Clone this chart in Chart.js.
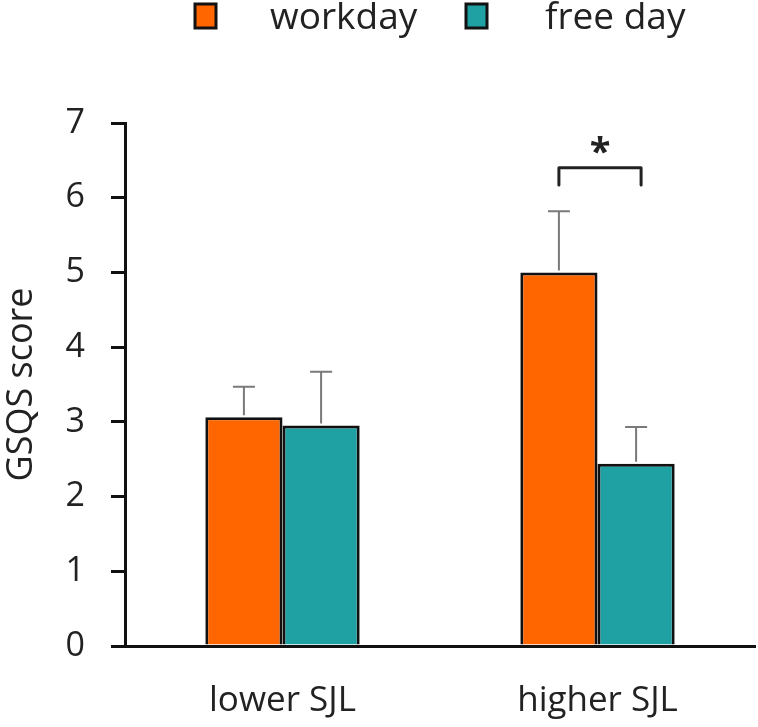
<!DOCTYPE html>
<html>
<head>
<meta charset="utf-8">
<script src="https://cdn.jsdelivr.net/npm/chart.js@4"></script>
<style>
  body { margin: 0; background: #fff; }
</style>
</head>
<body>
<canvas id="myChart" width="758" height="727"></canvas>
<script>
var categories = ['lower SJL', 'higher SJL'];
var workday = [3.06, 5.0];
var freeDay = [2.95, 2.44];
var workdayErr = [0.41, 0.82];
var freeDayErr = [0.72, 0.49];
var yTicks = [0, 1, 2, 3, 4, 5, 6, 7];

var FONT = "'Open Sans', sans-serif";

// error bars, only the upper half
var errorBars = {
  id: 'errorBars',
  afterDatasetsDraw: function(chart) {
    var ctx = chart.ctx;
    var y = chart.scales.y;
    var errs = [workdayErr, freeDayErr];
    ctx.save();
    ctx.strokeStyle = '#7a7a7a';
    ctx.lineWidth = 2;
    chart.data.datasets.forEach(function(ds, i) {
      chart.getDatasetMeta(i).data.forEach(function(bar, j) {
        var top = y.getPixelForValue(ds.data[j] + errs[i][j]);
        ctx.beginPath();
        ctx.moveTo(bar.x, bar.y - 2);
        ctx.lineTo(bar.x, top);
        ctx.moveTo(bar.x - 11, top);
        ctx.lineTo(bar.x + 11, top);
        ctx.stroke();
      });
    });
    ctx.restore();
  }
};

// significance bracket over higher SJL
var bracket = {
  id: 'bracket',
  afterDatasetsDraw: function(chart) {
    var ctx = chart.ctx;
    var y = chart.scales.y;
    var a = chart.getDatasetMeta(0).data[1];
    var b = chart.getDatasetMeta(1).data[1];
    var x1 = a.x, x2 = b.x + 5;
    var yTop = y.getPixelForValue(6.4), yEnd = y.getPixelForValue(6.17);
    ctx.save();
    ctx.strokeStyle = '#222';
    ctx.lineWidth = 3;
    ctx.lineJoin = 'round';
    ctx.lineCap = 'round';
    ctx.beginPath();
    ctx.moveTo(x1, yEnd);
    ctx.lineTo(x1, yTop);
    ctx.lineTo(x2, yTop);
    ctx.lineTo(x2, yEnd);
    ctx.stroke();
    ctx.fillStyle = '#222';
    ctx.font = 'bold 38px ' + FONT;
    ctx.textAlign = 'center';
    ctx.textBaseline = 'middle';
    ctx.fillText('*', (x1 + x2) / 2, y.getPixelForValue(6.58));
    ctx.restore();
  }
};

// legend drawn at the top
var topLegend = {
  id: 'topLegend',
  afterDraw: function(chart) {
    var ctx = chart.ctx;
    var items = [
      { box: 195, text: 270, ds: chart.data.datasets[0] },
      { box: 466, text: 545, ds: chart.data.datasets[1] }
    ];
    ctx.save();
    items.forEach(function(it) {
      ctx.fillStyle = it.ds.backgroundColor;
      ctx.fillRect(it.box, 4, 21, 24);
      ctx.strokeStyle = '#111';
      ctx.lineWidth = 3;
      ctx.strokeRect(it.box, 4, 21, 24);
      ctx.fillStyle = '#222';
      ctx.font = '37px ' + FONT;
      ctx.textBaseline = 'middle';
      ctx.fillText(it.ds.label, it.text, 18);
    });
    ctx.restore();
  }
};

var ctx = document.getElementById('myChart').getContext('2d');
var myChart = new Chart(ctx, {
  type: 'bar',
  data: {
    labels: categories,
    datasets: [{
      label: 'workday',
      data: workday,
      backgroundColor: '#ff6600',
      borderColor: '#111',
      borderWidth: 3,
      borderSkipped: 'bottom'
    },
    {
      label: 'free day',
      data: freeDay,
      backgroundColor: '#1fa1a3',
      borderColor: '#111',
      borderWidth: 3,
      borderSkipped: 'bottom'
    }]
  },
  options: {
    responsive: false,
    animation: false,
    layout: { padding: { top: 123, right: 3, left: 0, bottom: 5 } },
    plugins: {
      legend: { display: false },
      tooltip: { enabled: false }
    },
    datasets: {
      bar: { barPercentage: 1.0, categoryPercentage: 0.49 }
    },
    scales: {
      x: {
        afterFit: function(axis) { axis.height = 76; },
        grid: { display: false, drawTicks: false },
        border: { color: '#111', width: 3 },
        ticks: { color: '#222', padding: 34, font: { family: FONT, size: 35 } }
      },
      y: {
        min: 0,
        max: 7,
        afterFit: function(axis) { axis.width = 125; },
        afterBuildTicks: function(axis) {
          axis.ticks = yTicks.map(function(v) { return { value: v }; });
        },
        grid: { drawOnChartArea: false, color: '#111', lineWidth: 3, tickLength: 14 },
        border: { color: '#111', width: 3 },
        ticks: { color: '#222', padding: 26, font: { family: FONT, size: 34 } },
        title: {
          display: true,
          text: 'GSQS score',
          color: '#222',
          padding: { top: 0, bottom: 0 },
          font: { family: FONT, size: 36 }
        }
      }
    }
  },
  plugins: [errorBars, bracket, topLegend]
});
</script>
</body>
</html>
